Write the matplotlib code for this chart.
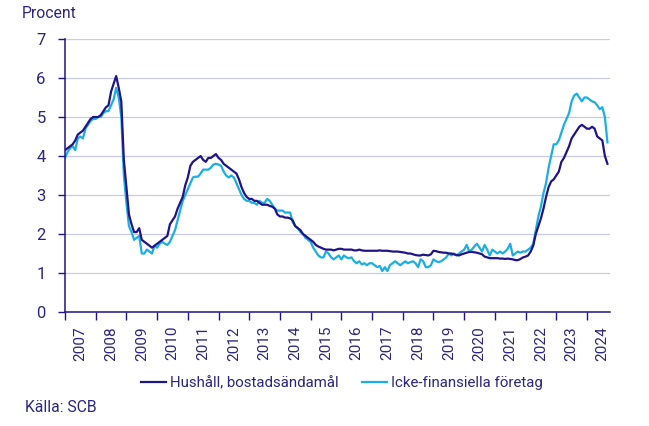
import matplotlib
matplotlib.use("Agg")
import matplotlib.pyplot as plt
import numpy as np

plt.rcParams['font.family'] = ['Roboto', 'DejaVu Sans']

start_year = 2007
years = list(range(2007, 2025))
year_labels = [str(y) for y in years]

hushall = [
    # 2007
    4.15, 4.2, 4.25, 4.3, 4.4, 4.55, 4.6, 4.65, 4.75, 4.85, 4.95, 5.0,
    # 2008
    5.0, 5.0, 5.05, 5.15, 5.25, 5.3, 5.65, 5.85, 6.05, 5.75, 5.4, 3.9,
    # 2009
    3.2, 2.5, 2.25, 2.05, 2.05, 2.15, 1.85, 1.8, 1.75, 1.7, 1.65, 1.7,
    # 2010
    1.75, 1.8, 1.85, 1.9, 1.95, 2.25, 2.35, 2.45, 2.65, 2.8, 2.95, 3.25,
    # 2011
    3.45, 3.75, 3.85, 3.9, 3.95, 4.0, 3.9, 3.85, 3.95, 3.95, 4.0, 4.05,
    # 2012
    3.95, 3.9, 3.8, 3.75, 3.7, 3.65, 3.6, 3.55, 3.4, 3.2, 3.05, 2.95,
    # 2013
    2.9, 2.9, 2.85, 2.85, 2.8, 2.75, 2.75, 2.75, 2.72, 2.7, 2.65, 2.5,
    # 2014
    2.45, 2.45, 2.42, 2.42, 2.4, 2.35, 2.2, 2.15, 2.1, 2.0, 1.95, 1.9,
    # 2015
    1.85, 1.8, 1.72, 1.68, 1.65, 1.62, 1.6, 1.6, 1.6, 1.58, 1.6, 1.62,
    # 2016
    1.62, 1.6, 1.6, 1.6, 1.6, 1.58, 1.58, 1.6, 1.58, 1.57, 1.57, 1.57,
    # 2017
    1.57, 1.57, 1.57, 1.58, 1.57, 1.57, 1.57, 1.56, 1.55, 1.55, 1.55, 1.54,
    # 2018
    1.53, 1.52, 1.5, 1.5, 1.48, 1.46, 1.45, 1.45, 1.47, 1.46, 1.45, 1.48,
    # 2019
    1.57, 1.56, 1.54, 1.53, 1.52, 1.52, 1.5, 1.5, 1.48, 1.46, 1.45, 1.48,
    # 2020
    1.5, 1.52, 1.54, 1.54, 1.53, 1.52, 1.5, 1.48, 1.42, 1.4, 1.38, 1.38,
    # 2021
    1.38, 1.38, 1.37, 1.37, 1.36, 1.37, 1.36, 1.35, 1.33, 1.33, 1.36, 1.4,
    # 2022
    1.42, 1.45, 1.55, 1.7, 2.0, 2.2, 2.4, 2.65, 2.95, 3.2, 3.35, 3.4,
    # 2023
    3.5, 3.6, 3.85, 3.95, 4.1, 4.25, 4.45, 4.55, 4.65, 4.75, 4.8, 4.75,
    # 2024
    4.7, 4.7, 4.75, 4.7, 4.5, 4.45, 4.4, 4.0, 3.8,
]

foretag = [
    # 2007
    3.95, 4.1, 4.2, 4.25, 4.15, 4.45, 4.5, 4.45, 4.7, 4.8, 4.9, 4.95,
    # 2008
    4.95, 5.0, 5.0, 5.1, 5.15, 5.15, 5.3, 5.45, 5.75, 5.5, 5.0, 3.5,
    # 2009
    2.8, 2.2, 2.05, 1.85, 1.9, 1.95, 1.5, 1.5, 1.6, 1.55, 1.5, 1.7,
    # 2010
    1.65, 1.75, 1.8, 1.75, 1.72, 1.8, 1.95, 2.1, 2.35, 2.6, 2.85, 3.0,
    # 2011
    3.15, 3.3, 3.45, 3.47, 3.47, 3.55, 3.65, 3.65, 3.65, 3.7, 3.78, 3.8,
    # 2012
    3.78, 3.75, 3.6, 3.5, 3.45, 3.5, 3.45, 3.3, 3.15, 3.0, 2.9, 2.85,
    # 2013
    2.85, 2.8, 2.8, 2.75, 2.85, 2.8, 2.8, 2.9, 2.85, 2.75, 2.65, 2.6,
    # 2014
    2.6, 2.6, 2.55, 2.55, 2.55, 2.3, 2.2, 2.15, 2.05, 2.0, 1.9, 1.85,
    # 2015
    1.8, 1.65, 1.55, 1.45, 1.4, 1.4, 1.55, 1.5, 1.4, 1.35, 1.4, 1.45,
    # 2016
    1.35, 1.45, 1.4, 1.38, 1.4, 1.3, 1.25, 1.3, 1.22, 1.25, 1.2, 1.25,
    # 2017
    1.25, 1.2, 1.15, 1.18, 1.05, 1.15, 1.05, 1.2, 1.25, 1.3, 1.25, 1.2,
    # 2018
    1.25, 1.3, 1.25, 1.28, 1.3, 1.25, 1.15, 1.35, 1.3, 1.15, 1.15, 1.2,
    # 2019
    1.35, 1.3, 1.28, 1.3, 1.35, 1.4, 1.5, 1.45, 1.5, 1.45, 1.5, 1.55,
    # 2020
    1.6, 1.72, 1.55, 1.6, 1.68, 1.75, 1.65, 1.55, 1.72, 1.6, 1.45, 1.6,
    # 2021
    1.55, 1.5, 1.55, 1.5, 1.55, 1.62, 1.75, 1.45, 1.5, 1.55, 1.52, 1.55,
    # 2022
    1.55, 1.6, 1.65, 1.75, 2.1, 2.45, 2.7, 3.05, 3.3, 3.7, 4.0, 4.3,
    # 2023
    4.3, 4.4, 4.6, 4.8, 4.95, 5.1, 5.4, 5.55, 5.6, 5.5, 5.4, 5.5,
    # 2024
    5.5, 5.45, 5.4, 5.38, 5.3, 5.2, 5.25, 5.0, 4.35,
]

navy = '#1f1488'
cyan = '#1aaee3'
text_col = '#2b2680'
grid_col = '#cacae6'

fig = plt.figure(figsize=(6.49, 4.26), dpi=100)
ax = fig.add_axes([65/649, 1-312/426, (610-65)/649, (312-39)/426])

x_h = start_year + np.arange(len(hushall)) / 12.0
x_f = start_year + np.arange(len(foretag)) / 12.0
ax.plot(x_h, hushall, color=navy, lw=1.6, label='Hushåll, bostadsändamål', zorder=3)
ax.plot(x_f, foretag, color=cyan, lw=1.6, label='Icke-finansiella företag', zorder=2)

ax.set_xlim(start_year, start_year + 213/12)
ax.set_ylim(0, 7)
ax.set_yticks(range(0, 8))
ax.yaxis.grid(True, color=grid_col, lw=0.9)
ax.set_axisbelow(True)

ax.set_xticks(years)
ax.set_xticklabels([])
ax.set_xticks([y + 0.5 for y in years], minor=True)
ax.set_xticklabels(year_labels, minor=True, rotation=90, fontsize=11, color=text_col)
ax.tick_params(axis='x', which='major', length=6, color=navy, width=1, direction='out')
ax.tick_params(axis='x', which='minor', length=0, pad=10)
ax.tick_params(axis='y', length=5, color=navy, width=1, labelsize=12, labelcolor=text_col, pad=9)

for s in ['top', 'right']:
    ax.spines[s].set_visible(False)
for s in ['left', 'bottom']:
    ax.spines[s].set_color(navy)
    ax.spines[s].set_linewidth(1.1)

fig.text(22/649, 1-13/426, 'Procent', fontsize=11.3, color=text_col, va='center', ha='left')
fig.text(25/649, 1-408/426, 'Källa: SCB', fontsize=11.3, color=text_col, va='center', ha='left')

leg = fig.legend(loc='center', bbox_to_anchor=(342/649, 1-383/426), ncol=2, frameon=False,
                 fontsize=10.8, handlelength=1.67, handletextpad=0.27, columnspacing=1.6)
for t in leg.get_texts():
    t.set_color(text_col)

fig.savefig('out.png', dpi=100)
